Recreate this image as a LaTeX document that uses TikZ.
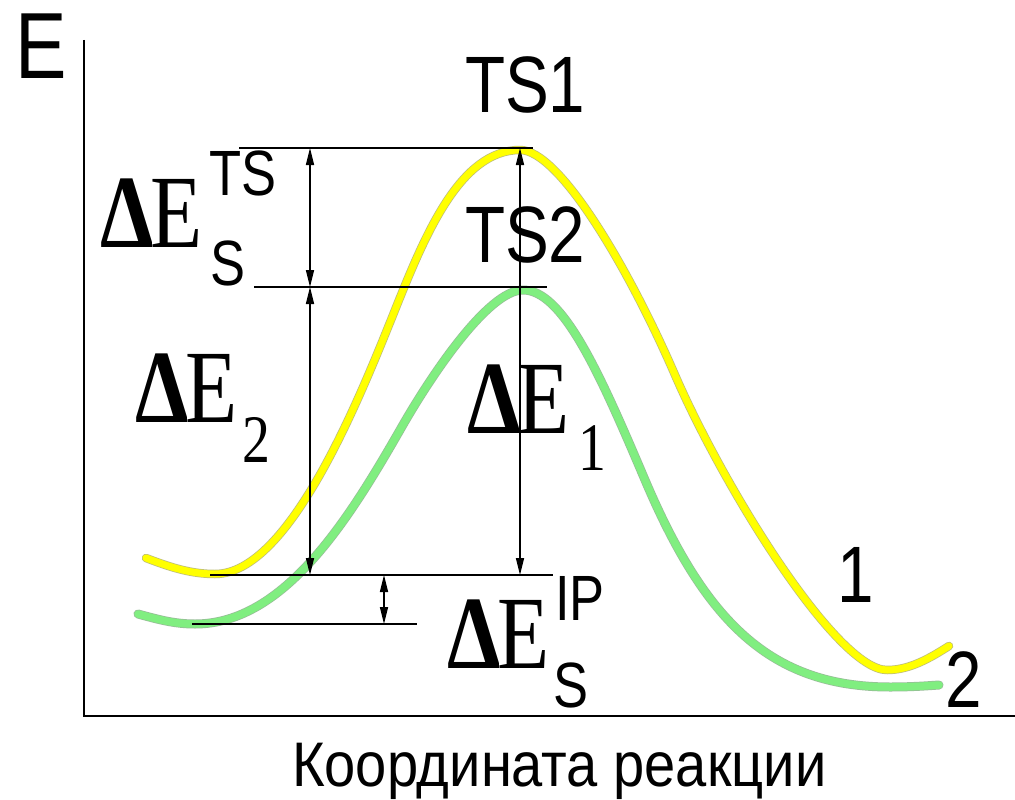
\documentclass[tikz,border=0pt]{standalone}
\usepackage{fontspec}
\setmainfont{Liberation Serif}
\newfontfamily\arialf{Liberation Sans}
\usepackage{graphicx}
\usetikzlibrary{arrows.meta}
\definecolor{curveY}{RGB}{255,255,0}
\definecolor{curveG}{RGB}{128,238,128}
\definecolor{edgeY}{RGB}{190,190,120}
\definecolor{edgeG}{RGB}{150,190,150}
\newcommand{\sq}[1]{\scalebox{0.82}[1]{#1}}
\newcommand{\dE}{\sq{{\bfseries Δ}\kern-0.04em E}}
\tikzset{
  lbl/.style={anchor=base west, inner sep=0pt, outer sep=0pt},
  sansbig/.style={lbl, font=\arialf\fontsize{80}{80}\selectfont},
  sanssmall/.style={lbl, font=\arialf\fontsize{64}{64}\selectfont},
  serifbig/.style={lbl, font=\fontsize{104}{104}\selectfont},
  serifsub/.style={lbl, font=\fontsize{68}{68}\selectfont},
  axisline/.style={line width=2.6pt, black},
  level/.style={line width=1.6pt, black},
  dimarrow/.style={line width=1.5pt, black, {Triangle[length=17pt,width=8pt]}-{Triangle[length=17pt,width=8pt]}},
  curveone/.style={line width=7pt, curveY, line cap=round, line join=round},
  curvetwo/.style={line width=7.5pt, curveG, line cap=round, line join=round},
  edgeone/.style={line width=8.5pt, edgeY, line cap=round, line join=round},
  edgetwo/.style={line width=9pt, edgeG, line cap=round, line join=round},
}
\begin{document}
\begin{tikzpicture}[x=1pt,y=-1pt]
\useasboundingbox[fill=white] (0,0) rectangle (1015,800);

% axes
\coordinate (o) at (84,716);
\coordinate (ytop) at (84,40);
\coordinate (xend) at (1015,716);
\draw[axisline] (ytop) -- (o) -- (xend);

% curve 1 (yellow)
\def\pathone{(146,558) .. controls (172,568) and (192,574) .. (215,574)
  .. controls (290,574) and (360,397) .. (395,310)
  .. controls (425,235) and (460,150) .. (520,150)
  .. controls (560,150) and (630,271) .. (675,375)
  .. controls (725,490) and (837,670) .. (887,670)
  .. controls (910,670) and (930,658) .. (949,646)}
% curve 2 (green)
\def\pathtwo{(138,614) .. controls (160,620) and (175,624) .. (195,624)
  .. controls (285,624) and (350,517) .. (400,430)
  .. controls (430,377) and (488,290) .. (523,290)
  .. controls (563,290) and (600,374) .. (645,480)
  .. controls (705,621) and (770,687) .. (890,687)
  .. controls (910,687) and (925,686) .. (939,685)}
\draw[edgeone] \pathone;
\draw[curveone] \pathone;
\draw[edgetwo] \pathtwo;
\draw[curvetwo] \pathtwo;

% levels
\coordinate (l1a) at (239,148); \coordinate (l1b) at (533,148);
\coordinate (l2a) at (254,287); \coordinate (l2b) at (547,287);
\coordinate (l3a) at (210,575); \coordinate (l3b) at (553,575);
\coordinate (l4a) at (192,624); \coordinate (l4b) at (417,624);
\draw[level] (l1a) -- (l1b);
\draw[level] (l2a) -- (l2b);
\draw[level] (l3a) -- (l3b);
\draw[level] (l4a) -- (l4b);

% dimension arrows
\coordinate (a1t) at (310,148); \coordinate (a1b) at (310,287);
\coordinate (a2b) at (310,575);
\coordinate (a3t) at (520,148); \coordinate (a3b) at (520,575);
\coordinate (a4t) at (384,575); \coordinate (a4b) at (384,624);
\draw[dimarrow] (a1t) -- (a1b);
\draw[dimarrow] (a1b) -- (a2b);
\draw[dimarrow] (a3t) -- (a3b);
\draw[dimarrow] (a4t) -- (a4b);

% labels
\node[lbl, font=\arialf\fontsize{94}{94}\selectfont] (E) at (15,78) {\sq{E}};
\node[sansbig] (ts1) at (465,112) {\sq{TS1}};
\node[sansbig] (ts2) at (465,262) {\sq{TS2}};

\node[serifbig] (dets) at (100,247) {\dE};
\node[sanssmall] (dets-sup) at (209,195) {\sq{TS}};
\node[sanssmall] (dets-sub) at (210,285) {\sq{S}};

\node[serifbig] (de2) at (135,422) {\dE};
\node[serifsub] (de2-sub) at (242,462) {\sq{2}};

\node[serifbig] (de1) at (467,433) {\dE};
\node[serifsub] (de1-sub) at (578,470) {\sq{1}};

\node[serifbig] (deip) at (447,668) {\dE};
\node[sanssmall] (deip-sup) at (555,620) {\sq{IP}};
\node[sanssmall] (deip-sub) at (553,707) {\sq{S}};

\node[sansbig] (c1) at (837,602) {\sq{1}};
\node[sansbig] (c2) at (945,707) {\sq{2}};

\node[lbl, font=\arialf\fontsize{63}{63}\selectfont] (xlabel) at (292,786) {\scalebox{0.89}[1]{Координата реакции}};
\end{tikzpicture}
\end{document}
